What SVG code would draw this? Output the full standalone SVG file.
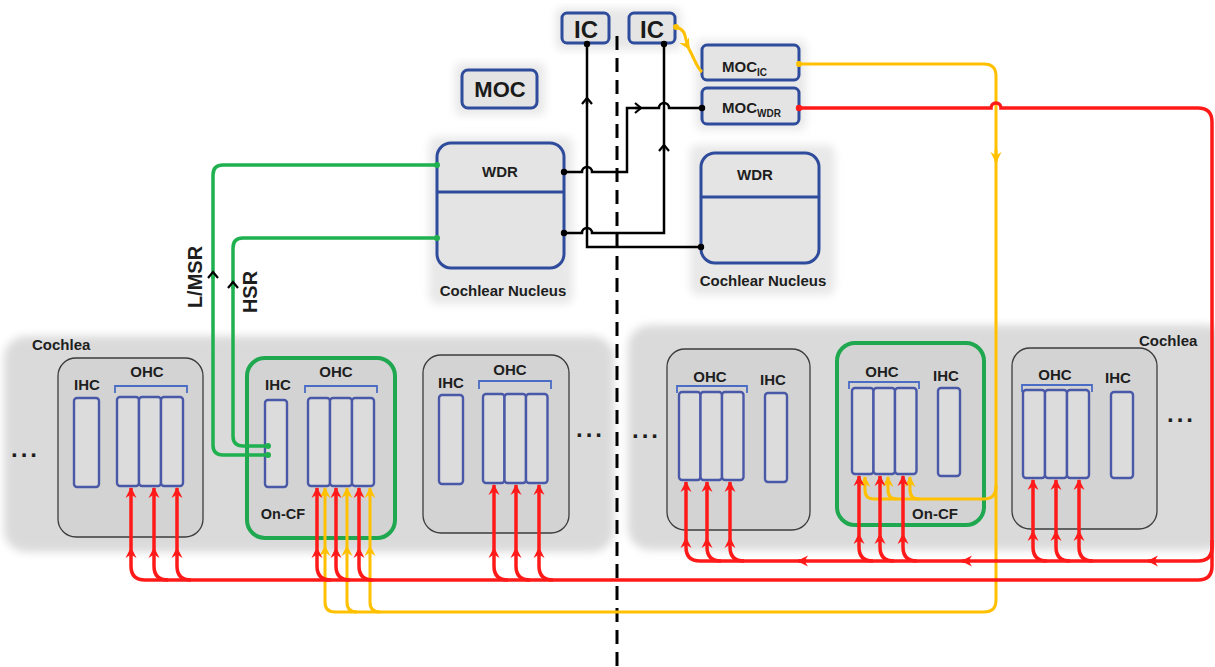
<svg xmlns="http://www.w3.org/2000/svg" width="1215" height="667" viewBox="0 0 1215 667">
<defs>
<style>
.lbl{font-family:"Liberation Sans",Arial,sans-serif;font-weight:bold;fill:#1e1e1e}
.big{font-family:"Liberation Sans",Arial,sans-serif;font-weight:bold;fill:#1a1a1a}
.node{fill:#e4e4e4;stroke:#2f4c9c;stroke-width:3}
.unit{fill:#d3d3d3;stroke:#3c3c3c;stroke-width:1.3}
.oncf{fill:#d3d3d3;stroke:#1fa84f;stroke-width:4}
.cell{fill:#dcdcdc;stroke:#4a58a8;stroke-width:2.4}
.brk{fill:none;stroke:#4a6cc4;stroke-width:1.8}
.wk{fill:none;stroke:#000;stroke-width:2.5}
.wg{fill:none;stroke:#1fb04f;stroke-width:3.5}
.wr{fill:none;stroke:#ff1a1a;stroke-width:3.5}
.wy{fill:none;stroke:#ffc000;stroke-width:3}
.haze{fill:#dadada;filter:url(#soft)}
.shade{fill:#e8e8e8;filter:url(#soft)}
.dash{stroke:#000;stroke-width:3;stroke-dasharray:14 8}
</style>
<filter id="soft" x="-10%" y="-10%" width="120%" height="120%"><feGaussianBlur stdDeviation="4"/></filter>
<marker id="arR" viewBox="-12 -7 14 14" refX="0" refY="0" markerWidth="14" markerHeight="14" markerUnits="userSpaceOnUse" orient="auto"><path d="M1,0 L-10,-5.5 L-6.5,0 L-10,5.5 Z" fill="#ff1a1a"/></marker>
<marker id="arY" viewBox="-12 -7 14 14" refX="0" refY="0" markerWidth="14" markerHeight="14" markerUnits="userSpaceOnUse" orient="auto"><path d="M1,0 L-10,-5.5 L-6.5,0 L-10,5.5 Z" fill="#ffc000"/></marker>
<marker id="chev" viewBox="-9 -7 11 14" refX="0" refY="0" markerWidth="11" markerHeight="14" markerUnits="userSpaceOnUse" orient="auto"><path d="M-6,-5 L0,0 L-6,5" fill="none" stroke="#000" stroke-width="2.2"/></marker>
<marker id="dotK" viewBox="-4 -4 8 8" markerWidth="8" markerHeight="8" markerUnits="userSpaceOnUse"><circle r="3.2" fill="#000"/></marker>
<marker id="dotG" viewBox="-4 -4 8 8" markerWidth="8" markerHeight="8" markerUnits="userSpaceOnUse"><circle r="3" fill="#1fb04f"/></marker>
<marker id="dotR" viewBox="-4 -4 8 8" markerWidth="8" markerHeight="8" markerUnits="userSpaceOnUse"><circle r="3.2" fill="#ff1a1a"/></marker>
<marker id="dotY" viewBox="-4 -4 8 8" markerWidth="8" markerHeight="8" markerUnits="userSpaceOnUse"><circle r="3" fill="#ffc000"/></marker>
</defs>

<rect width="1215" height="667" fill="#fff"/>

<!-- soft backgrounds -->
<rect class="haze" x="4" y="336" width="610" height="216" rx="22"/>
<rect class="haze" x="628" y="325" width="600" height="225" rx="22"/>
<rect class="shade" x="429" y="137" width="144" height="167" rx="8"/>
<rect class="shade" x="690" y="145" width="145" height="150" rx="8"/>
<rect class="shade" x="556" y="8" width="125" height="42" rx="6"/>
<rect class="shade" x="455" y="63" width="90" height="52" rx="6"/>
<rect class="shade" x="696" y="40" width="110" height="90" rx="6"/>

<!-- midline -->
<line class="dash" x1="617" y1="36" x2="617" y2="667"/>

<!-- brainstem nodes -->
<g id="ic-left">
<rect class="node" x="562" y="13" width="47" height="30" rx="5"/>
<text class="big" x="586" y="38" font-size="24" text-anchor="middle">IC</text>
</g>
<g id="ic-right">
<rect class="node" x="629" y="13" width="46" height="30" rx="5"/>
<text class="big" x="652" y="38" font-size="24" text-anchor="middle">IC</text>
</g>
<g id="moc">
<rect class="node" x="462" y="70" width="75" height="38" rx="6"/>
<text class="big" x="500" y="97" font-size="22" text-anchor="middle">MOC</text>
</g>
<g id="moc-ic">
<rect class="node" x="702" y="45" width="97" height="35" rx="5"/>
<text class="lbl" x="722" y="72" font-size="15">MOC<tspan font-size="10" dy="4">IC</tspan></text>
</g>
<g id="moc-wdr">
<rect class="node" x="702" y="88" width="97" height="36" rx="5"/>
<text class="lbl" x="722" y="113" font-size="15">MOC<tspan font-size="10" dy="4">WDR</tspan></text>
</g>
<g id="cn-left">
<rect class="node" x="437" y="143" width="127" height="125" rx="14"/>
<line x1="437" y1="192" x2="564" y2="192" stroke="#2f4c9c" stroke-width="3"/>
<text class="lbl" x="500" y="177" font-size="15" text-anchor="middle">WDR</text>
<text class="lbl" x="503" y="296" font-size="15" text-anchor="middle">Cochlear Nucleus</text>
</g>
<g id="cn-right">
<rect class="node" x="701" y="153" width="118" height="110" rx="14"/>
<line x1="701" y1="197" x2="819" y2="197" stroke="#2f4c9c" stroke-width="3"/>
<text class="lbl" x="755" y="180" font-size="15" text-anchor="middle">WDR</text>
<text class="lbl" x="763" y="286" font-size="15" text-anchor="middle">Cochlear Nucleus</text>
</g>

<!-- cochleae -->
<g id="cochlea-left">
<text class="lbl" x="32" y="350" font-size="15">Cochlea</text>
<text class="lbl" x="11" y="457" font-size="24" letter-spacing="3">...</text>
<text class="lbl" x="576" y="437" font-size="24" letter-spacing="3">...</text>
</g>
<g id="cochlea-right">
<text class="lbl" x="1139" y="346" font-size="15">Cochlea</text>
<text class="lbl" x="632" y="438" font-size="24" letter-spacing="3">...</text>
<text class="lbl" x="1167" y="422" font-size="24" letter-spacing="3">...</text>
</g>

<g id="unit-l1">
<rect class="unit" x="58" y="358" width="145" height="179" rx="18"/>
<text class="lbl" x="87" y="390" font-size="15" text-anchor="middle">IHC</text>
<text class="lbl" x="147" y="377" font-size="15" text-anchor="middle">OHC</text>
<path class="brk" d="M115,393 V386 H187 V393"/>
<rect class="cell" x="74" y="398" width="25" height="89" rx="3"/>
<rect class="cell" x="117" y="397" width="22" height="89" rx="3"/>
<rect class="cell" x="139" y="397" width="22" height="89" rx="3"/>
<rect class="cell" x="161" y="397" width="22" height="89" rx="3"/>
</g>
<g id="unit-l2-oncf">
<rect class="oncf" x="247" y="358" width="148" height="180" rx="18"/>
<text class="lbl" x="278" y="390" font-size="15" text-anchor="middle">IHC</text>
<text class="lbl" x="336" y="377" font-size="15" text-anchor="middle">OHC</text>
<path class="brk" d="M305,393 V386 H377 V393"/>
<rect class="cell" x="265" y="400" width="22" height="87" rx="3"/>
<rect class="cell" x="308" y="398" width="22" height="88" rx="3"/>
<rect class="cell" x="330" y="398" width="22" height="88" rx="3"/>
<rect class="cell" x="352" y="398" width="22" height="88" rx="3"/>
<text class="lbl" x="283" y="519" font-size="14.5" text-anchor="middle">On-CF</text>
</g>
<g id="unit-l3">
<rect class="unit" x="423" y="355" width="146" height="178" rx="18"/>
<text class="lbl" x="451" y="388" font-size="15" text-anchor="middle">IHC</text>
<text class="lbl" x="510" y="375" font-size="15" text-anchor="middle">OHC</text>
<path class="brk" d="M479,389 V381 H551 V389"/>
<rect class="cell" x="439" y="395" width="24" height="89" rx="3"/>
<rect class="cell" x="483" y="394" width="21.5" height="89" rx="3"/>
<rect class="cell" x="504.5" y="394" width="21.5" height="89" rx="3"/>
<rect class="cell" x="526" y="394" width="21.5" height="89" rx="3"/>
</g>
<g id="unit-r1">
<rect class="unit" x="667" y="349" width="143" height="181" rx="18"/>
<text class="lbl" x="710" y="382" font-size="15" text-anchor="middle">OHC</text>
<text class="lbl" x="773" y="385" font-size="15" text-anchor="middle">IHC</text>
<path class="brk" d="M677,393 V386 H747 V393"/>
<rect class="cell" x="679" y="392" width="21.5" height="88" rx="3"/>
<rect class="cell" x="700.5" y="392" width="21.5" height="88" rx="3"/>
<rect class="cell" x="722" y="392" width="21.5" height="88" rx="3"/>
<rect class="cell" x="765" y="393" width="22" height="89" rx="3"/>
</g>
<g id="unit-r2-oncf">
<rect class="oncf" x="837" y="343" width="147" height="182" rx="18"/>
<text class="lbl" x="882" y="377" font-size="15" text-anchor="middle">OHC</text>
<text class="lbl" x="946" y="381" font-size="15" text-anchor="middle">IHC</text>
<path class="brk" d="M849,389 V382 H919 V389"/>
<rect class="cell" x="852" y="388" width="21.5" height="86" rx="3"/>
<rect class="cell" x="873.5" y="388" width="21.5" height="86" rx="3"/>
<rect class="cell" x="895" y="388" width="21.5" height="86" rx="3"/>
<rect class="cell" x="938" y="388" width="22" height="88" rx="3"/>
<text class="lbl" x="935" y="519" font-size="15" text-anchor="middle">On-CF</text>
</g>
<g id="unit-r3">
<rect class="unit" x="1012" y="348" width="145" height="181" rx="18"/>
<text class="lbl" x="1055" y="380" font-size="15" text-anchor="middle">OHC</text>
<text class="lbl" x="1118" y="383" font-size="15" text-anchor="middle">IHC</text>
<path class="brk" d="M1022,392 V385 H1092 V392"/>
<rect class="cell" x="1023" y="390" width="22" height="88" rx="3"/>
<rect class="cell" x="1045" y="390" width="22" height="88" rx="3"/>
<rect class="cell" x="1067" y="390" width="22" height="88" rx="3"/>
<rect class="cell" x="1111" y="392" width="22" height="86" rx="3"/>
</g>

<!-- connectors -->
<g id="connectors">
<!-- afferent fibres: IHC to cochlear nucleus -->
<path class="wg" d="M437,165 H223 Q213,165 213,175 V445 Q213,455 223,455 H268" marker-start="url(#dotG)" marker-end="url(#dotG)"/>
<path class="wg" d="M437,238 H243 Q233,238 233,248 V436 Q233,446 243,446 H268" marker-start="url(#dotG)" marker-end="url(#dotG)"/>
<path class="wg" d="M213,279 V272" marker-end="url(#chev)"/>
<path class="wg" d="M233,289 V282" marker-end="url(#chev)"/>
<text class="lbl" transform="translate(202,277) rotate(-90)" font-size="20" text-anchor="middle">L/MSR</text>
<text class="lbl" transform="translate(257,292) rotate(-90)" font-size="20" text-anchor="middle">HSR</text>

<!-- brainstem wiring -->
<path class="wk" d="M564,172 H582 a5,5 0 0 1 10,0 H627 V108 H659 a5,5 0 0 1 10,0 H702" marker-start="url(#dotK)" marker-end="url(#dotK)"/>
<path class="wk" d="M564,233 H582 a5,5 0 0 1 10,0 H664 V44" marker-start="url(#dotK)" marker-end="url(#dotK)"/>
<path class="wk" d="M701,247 H587 V44" marker-start="url(#dotK)" marker-end="url(#dotK)"/>
<path class="wk" d="M635,108 H641" marker-end="url(#chev)"/>
<path class="wk" d="M664,151 V145" marker-end="url(#chev)"/>
<path class="wk" d="M587,104 V98" marker-end="url(#chev)"/>

<!-- MOC-IC efferent path (yellow) -->
<path class="wy" d="M676,27 C688,30 684,40 689,49" marker-start="url(#dotY)" marker-end="url(#arY)"/>
<path class="wy" d="M689,49 C695,60 697,68 702,72"/>
<path class="wy" d="M799,64 H984 Q996,64 996,76 V600 Q996,612 984,612 H335 Q325,612 325,602 V546" marker-start="url(#dotY)" marker-end="url(#arY)"/>
<path class="wy" d="M996,150 V162" marker-end="url(#arY)"/>
<path class="wy" d="M357,612 Q347,612 347,602 V546" marker-end="url(#arY)"/>
<path class="wy" d="M380,612 Q370,612 370,602 V546" marker-end="url(#arY)"/>
<path class="wy" d="M325,546 V488" marker-end="url(#arY)"/>
<path class="wy" d="M347,546 V488" marker-end="url(#arY)"/>
<path class="wy" d="M370,546 V488" marker-end="url(#arY)"/>
<path class="wy" d="M996,486 Q996,499 984,499 H874 Q865,499 865,490 V477" marker-end="url(#arY)"/>
<path class="wy" d="M897,499 Q888,499 888,490 V477" marker-end="url(#arY)"/>
<path class="wy" d="M919,499 Q910,499 910,490 V477" marker-end="url(#arY)"/>

<!-- MOC-WDR efferent path (red) -->
<path class="wr" d="M799,108 H991 a5,5 0 0 1 10,0 H1198 Q1212,108 1212,122 V566 Q1212,580 1198,580 H145 Q131,580 131,566 V548" marker-start="url(#dotR)" marker-end="url(#arR)"/>
<path class="wr" d="M1212,540 V547 Q1212,561 1198,561 H700 Q686,561 686,547 V538" marker-end="url(#arR)"/>
<path class="wr" d="M1156,561 H1148" marker-end="url(#arR)"/>
<path class="wr" d="M970,561 H962" marker-end="url(#arR)"/>
<path class="wr" d="M806,561 H798" marker-end="url(#arR)"/>

<!-- branches on the lower bus -->
<path class="wr" d="M168,580 Q154,580 154,566 V548" marker-end="url(#arR)"/>
<path class="wr" d="M191,580 Q177,580 177,566 V548" marker-end="url(#arR)"/>
<path class="wr" d="M331,580 Q317,580 317,566 V548" marker-end="url(#arR)"/>
<path class="wr" d="M350,580 Q336,580 336,566 V548" marker-end="url(#arR)"/>
<path class="wr" d="M373,580 Q359,580 359,566 V548" marker-end="url(#arR)"/>
<path class="wr" d="M508,580 Q494,580 494,566 V548" marker-end="url(#arR)"/>
<path class="wr" d="M530,580 Q516,580 516,566 V548" marker-end="url(#arR)"/>
<path class="wr" d="M553,580 Q539,580 539,566 V548" marker-end="url(#arR)"/>
<path class="wr" d="M131,548 V488" marker-end="url(#arR)"/>
<path class="wr" d="M154,548 V488" marker-end="url(#arR)"/>
<path class="wr" d="M177,548 V488" marker-end="url(#arR)"/>
<path class="wr" d="M317,548 V488" marker-end="url(#arR)"/>
<path class="wr" d="M336,548 V488" marker-end="url(#arR)"/>
<path class="wr" d="M359,548 V488" marker-end="url(#arR)"/>
<path class="wr" d="M494,548 V485" marker-end="url(#arR)"/>
<path class="wr" d="M516,548 V485" marker-end="url(#arR)"/>
<path class="wr" d="M539,548 V485" marker-end="url(#arR)"/>

<!-- branches on the upper bus -->
<path class="wr" d="M721,561 Q707,561 707,547 V538" marker-end="url(#arR)"/>
<path class="wr" d="M744,561 Q730,561 730,547 V538" marker-end="url(#arR)"/>
<path class="wr" d="M873,561 Q859,561 859,547 V534" marker-end="url(#arR)"/>
<path class="wr" d="M894,561 Q880,561 880,547 V534" marker-end="url(#arR)"/>
<path class="wr" d="M917,561 Q903,561 903,547 V534" marker-end="url(#arR)"/>
<path class="wr" d="M1047,561 Q1033,561 1033,547 V531" marker-end="url(#arR)"/>
<path class="wr" d="M1070,561 Q1056,561 1056,547 V531" marker-end="url(#arR)"/>
<path class="wr" d="M1093,561 Q1079,561 1079,547 V531" marker-end="url(#arR)"/>
<path class="wr" d="M686,538 V482" marker-end="url(#arR)"/>
<path class="wr" d="M707,538 V482" marker-end="url(#arR)"/>
<path class="wr" d="M730,538 V482" marker-end="url(#arR)"/>
<path class="wr" d="M859,534 V476" marker-end="url(#arR)"/>
<path class="wr" d="M880,534 V476" marker-end="url(#arR)"/>
<path class="wr" d="M903,534 V476" marker-end="url(#arR)"/>
<path class="wr" d="M1033,531 V480" marker-end="url(#arR)"/>
<path class="wr" d="M1056,531 V480" marker-end="url(#arR)"/>
<path class="wr" d="M1079,531 V480" marker-end="url(#arR)"/>
</g>
</svg>
